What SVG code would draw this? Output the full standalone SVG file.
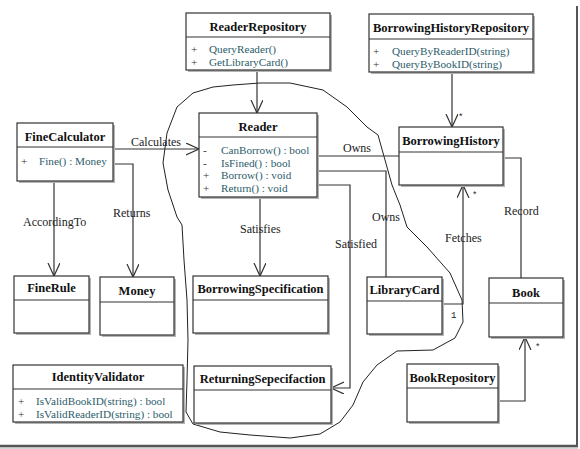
<svg xmlns="http://www.w3.org/2000/svg" width="580" height="449" viewBox="0 0 580 449">
<defs>
<style>
.box{fill:#fff;stroke:#333;stroke-width:1.2}
.sh{fill:#b4b4b4}
.hd{stroke:#333;stroke-width:1.2}
.t{font-family:"Liberation Serif",serif;font-weight:bold;font-size:12.5px;fill:#111;text-anchor:middle}
.m{font-family:"Liberation Serif",serif;font-size:11.2px;fill:#2c5c6a}
.v{font-family:"Liberation Serif",serif;font-size:11.2px;fill:#333}
.l{font-family:"Liberation Serif",serif;font-size:12px;fill:#222}
.n{font-family:"Liberation Mono",monospace;font-size:9px;fill:#222}
.c{fill:none;stroke:#333;stroke-width:1.2}
</style>
<marker id="arr" markerUnits="userSpaceOnUse" markerWidth="16" markerHeight="16" refX="13" refY="6" orient="auto">
<path d="M0,0 L13,6 L0,12" fill="none" stroke="#333" stroke-width="1.2"/>
</marker>
</defs>
<rect width="580" height="449" fill="#fff"/>
<g id="frame">
<line x1="577" y1="6" x2="577" y2="446" stroke="#555" stroke-width="2"/>
<line x1="0" y1="446" x2="578" y2="446" stroke="#555" stroke-width="2.5"/>
<line x1="0" y1="448" x2="578" y2="448" stroke="#aaa" stroke-width="1"/>
</g>
<path id="boundary" d="M233,85 L260,83 L290,83 L323,90 L347,107 L367,127 L378,135 L385,160 L392,185 L400,205 L407,227 L427,247 L450,273 L462,300 L463,322 L455,338 L433,350 L397,351 L377,365 L363,382 L353,405 L340,422 L320,434 L290,438 L250,435 L220,432 L193,424 L186,412 L187,380 L188,340 L187,300 L184,260 L182,225 L177,217 L168,190 L163,163 L167,133 L177,107 L193,93 L213,87 Z" fill="none" stroke="#222" stroke-width="1" stroke-linejoin="round"/>
<g id="connectors">
<path class="c" d="M257,70 V113" marker-end="url(#arr)"/>
<path class="c" d="M452,72 V127" marker-end="url(#arr)"/>
<path class="c" d="M113,149 H199" marker-end="url(#arr)"/>
<path class="c" d="M113,164 H133 V277" marker-end="url(#arr)"/>
<path class="c" d="M54,181 V276" marker-end="url(#arr)"/>
<path class="c" d="M260,197 V276" marker-end="url(#arr)"/>
<path class="c" d="M317,185 H350 V388 H331" marker-end="url(#arr)"/>
<path class="c" d="M317,156 H399"/>
<path class="c" d="M317,171 H386 V277"/>
<path class="c" d="M442,304 H463 V185" marker-end="url(#arr)"/>
<path class="c" d="M503,158 H521 V278"/>
<path class="c" d="M498,401 H525 V337" marker-end="url(#arr)"/>
<text class="l" x="131" y="146">Calculates</text>
<text class="l" x="113" y="217">Returns</text>
<text class="l" x="23" y="226">AccordingTo</text>
<text class="l" x="240" y="233">Satisfies</text>
<text class="l" x="335" y="248">Satisfied</text>
<text class="l" x="343" y="152">Owns</text>
<text class="l" x="372" y="221">Owns</text>
<text class="l" x="445" y="242">Fetches</text>
<text class="l" x="504" y="215">Record</text>
<text class="n" x="458" y="120">*</text>
<text class="n" x="472" y="198">*</text>
<text class="n" x="451" y="318">1</text>
<text class="n" x="535" y="350">*</text>
</g>
<g id="ReaderRepository">
<rect class="sh" x="188" y="15" width="144" height="57"/>
<rect class="box" x="186" y="13" width="144" height="57"/>
<line class="hd" x1="186" y1="37" x2="330" y2="37"/>
<text class="t" x="258" y="31">ReaderRepository</text>
<text class="v" x="191" y="53">+</text><text class="m" x="209" y="53">QueryReader()</text>
<text class="v" x="191" y="66">+</text><text class="m" x="209" y="66">GetLibraryCard()</text>
</g>
<g id="BorrowingHistoryRepository">
<rect class="sh" x="371" y="16" width="164" height="58"/>
<rect class="box" x="369" y="14" width="164" height="58"/>
<line class="hd" x1="369" y1="39" x2="533" y2="39"/>
<text class="t" x="451" y="32">BorrowingHistoryRepository</text>
<text class="v" x="373" y="55">+</text><text class="m" x="392" y="55">QueryByReaderID(string)</text>
<text class="v" x="373" y="68">+</text><text class="m" x="392" y="68">QueryByBookID(string)</text>
</g>
<g id="FineCalculator">
<rect class="sh" x="19" y="125" width="96" height="58"/>
<rect class="box" x="17" y="123" width="96" height="58"/>
<line class="hd" x1="17" y1="147" x2="113" y2="147"/>
<text class="t" x="65" y="141">FineCalculator</text>
<text class="v" x="21" y="165">+</text><text class="m" x="39" y="165">Fine() : Money</text>
</g>
<g id="Reader">
<rect class="sh" x="201" y="115" width="118" height="84"/>
<rect class="box" x="199" y="113" width="118" height="84"/>
<line class="hd" x1="199" y1="137" x2="317" y2="137"/>
<text class="t" x="258" y="131">Reader</text>
<text class="v" x="203" y="154">-</text><text class="m" x="221" y="154">CanBorrow() : bool</text>
<text class="v" x="203" y="166.5">-</text><text class="m" x="221" y="166.5">IsFined() : bool</text>
<text class="v" x="203" y="179">+</text><text class="m" x="221" y="179">Borrow() : void</text>
<text class="v" x="203" y="191.5">+</text><text class="m" x="221" y="191.5">Return() : void</text>
</g>
<g id="BorrowingHistory">
<rect class="sh" x="401" y="129" width="104" height="58"/>
<rect class="box" x="399" y="127" width="104" height="58"/>
<line class="hd" x1="399" y1="152" x2="503" y2="152"/>
<text class="t" x="451" y="145">BorrowingHistory</text>
</g>
<g id="FineRule">
<rect class="sh" x="16" y="278" width="75" height="57"/>
<rect class="box" x="14" y="276" width="75" height="57"/>
<line class="hd" x1="14" y1="300" x2="89" y2="300"/>
<text class="t" x="51.5" y="292">FineRule</text>
</g>
<g id="Money">
<rect class="sh" x="102" y="279" width="74" height="58"/>
<rect class="box" x="100" y="277" width="74" height="58"/>
<line class="hd" x1="100" y1="302" x2="174" y2="302"/>
<text class="t" x="137" y="295">Money</text>
</g>
<g id="BorrowingSpecification">
<rect class="sh" x="195" y="278" width="135" height="57"/>
<rect class="box" x="193" y="276" width="135" height="57"/>
<line class="hd" x1="193" y1="300" x2="328" y2="300"/>
<text class="t" x="260.5" y="293">BorrowingSpecification</text>
</g>
<g id="ReturningSepecifaction">
<rect class="sh" x="196" y="368" width="137" height="57"/>
<rect class="box" x="194" y="366" width="137" height="57"/>
<line class="hd" x1="194" y1="390" x2="331" y2="390"/>
<text class="t" x="262.5" y="383">ReturningSepecifaction</text>
</g>
<g id="IdentityValidator">
<rect class="sh" x="15" y="367" width="170" height="57"/>
<rect class="box" x="13" y="365" width="170" height="57"/>
<line class="hd" x1="13" y1="389" x2="183" y2="389"/>
<text class="t" x="98" y="381">IdentityValidator</text>
<text class="v" x="18" y="405">+</text><text class="m" x="36" y="405">IsValidBookID(string) : bool</text>
<text class="v" x="18" y="418">+</text><text class="m" x="36" y="418">IsValidReaderID(string) : bool</text>
</g>
<g id="LibraryCard">
<rect class="sh" x="369" y="279" width="75" height="57"/>
<rect class="box" x="367" y="277" width="75" height="57"/>
<line class="hd" x1="367" y1="301" x2="442" y2="301"/>
<text class="t" x="404.5" y="294">LibraryCard</text>
</g>
<g id="Book">
<rect class="sh" x="491" y="280" width="74" height="59"/>
<rect class="box" x="489" y="278" width="74" height="59"/>
<line class="hd" x1="489" y1="303" x2="563" y2="303"/>
<text class="t" x="526" y="297">Book</text>
</g>
<g id="BookRepository">
<rect class="sh" x="409" y="366" width="91" height="58"/>
<rect class="box" x="407" y="364" width="91" height="58"/>
<line class="hd" x1="407" y1="388" x2="498" y2="388"/>
<text class="t" x="452.5" y="382">BookRepository</text>
</g>
</svg>
